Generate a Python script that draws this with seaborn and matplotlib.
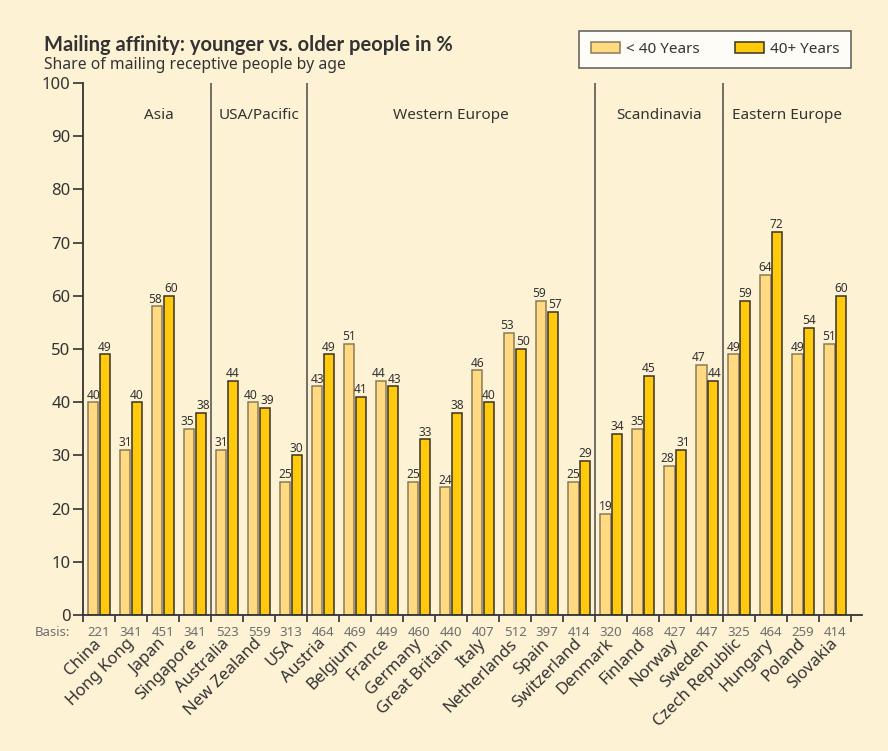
import matplotlib
matplotlib.use("Agg")
import matplotlib.pyplot as plt
import matplotlib.transforms as mtransforms
from matplotlib.patches import Patch
import pandas as pd
import seaborn as sns

# --- data -------------------------------------------------------------
countries = ["China", "Hong Kong", "Japan", "Singapore",
             "Australia", "New Zealand", "USA",
             "Austria", "Belgium", "France", "Germany", "Great Britain",
             "Italy", "Netherlands", "Spain", "Switzerland",
             "Denmark", "Finland", "Norway", "Sweden",
             "Czech Republic", "Hungary", "Poland", "Slovakia"]
under_40 = [40, 31, 58, 35, 31, 40, 25, 43, 51, 44, 25, 24, 46, 53, 59, 25,
            19, 35, 28, 47, 49, 64, 49, 51]
over_40 = [49, 40, 60, 38, 44, 39, 30, 49, 41, 43, 33, 38, 40, 50, 57, 29,
           34, 45, 31, 44, 59, 72, 54, 60]
basis = [221, 341, 451, 341, 523, 559, 313, 464, 469, 449, 460, 440, 407,
         512, 397, 414, 320, 468, 427, 447, 325, 464, 259, 414]
regions = ["Asia", "USA/Pacific", "Western Europe", "Scandinavia", "Eastern Europe"]
region_sizes = [4, 3, 9, 4, 4]
age_groups = ["< 40 Years", "40+ Years"]

# --- styling ----------------------------------------------------------
BG = "#FEF2D5"
C_YOUNG = "#FFDA80"
C_OLD = "#FFC90C"
E_YOUNG = "#8A7A58"
E_OLD = "#3A3222"
DARK = "#333333"
GREY = "#6E6E6E"

sns.set_theme(style="white")
plt.rcParams["font.family"] = ["Noto Sans", "DejaVu Sans"]

df = pd.DataFrame({
    "country": countries * 2,
    "value": under_40 + over_40,
    "age": [age_groups[0]] * len(countries) + [age_groups[1]] * len(countries),
})

fig = plt.figure(figsize=(8.88, 7.51), dpi=100, facecolor=BG)
ax = fig.add_axes([83 / 888, 1 - 615 / 751, (862 - 83) / 888, (615 - 83) / 751])
ax.set_facecolor(BG)

sns.barplot(data=df, x="country", y="value", hue="age", order=countries,
            hue_order=age_groups, palette=[C_YOUNG, C_OLD], width=0.72,
            gap=0.1, saturation=1, legend=False, ax=ax)

label_sets = []
for cont, ec in zip(ax.containers, [E_YOUNG, E_OLD]):
    for bar in cont:
        bar.set_edgecolor(ec)
        bar.set_linewidth(1.1)
    label_sets.append(ax.bar_label(cont, fmt="%d", padding=0.5,
                                   fontsize=8.6, color=DARK))

# push apart the value labels of neighbouring bars with similar heights
for lo, hi, a, b in zip(label_sets[0], label_sets[1], under_40, over_40):
    if abs(a - b) <= 3:
        lo.xyann = (-1.6, lo.xyann[1])
        hi.xyann = (1.6, hi.xyann[1])

ax.set_xlim(-0.5, 23.84)
ax.set_ylim(0, 100)
ax.set_yticks(range(0, 101, 10))
ax.set_xlabel("")
ax.set_ylabel("")

for side in ["top", "right"]:
    ax.spines[side].set_visible(False)
for side in ["left", "bottom"]:
    ax.spines[side].set_color(DARK)
    ax.spines[side].set_linewidth(1.3)

ax.tick_params(axis="y", which="major", length=7, width=1.2, color=DARK,
               labelsize=12, labelcolor=DARK, pad=2, left=True)

# country names below the basis row
ax.set_xticks(range(len(countries)))
ax.set_xticklabels(countries)
ax.tick_params(axis="x", which="major", length=0, pad=19, labelsize=12,
               labelcolor=DARK)
plt.setp(ax.get_xticklabels(), rotation=45, ha="right", va="center",
         rotation_mode="anchor")

# small separator ticks between countries
ax.set_xticks([i - 0.5 for i in range(len(countries) + 1)], minor=True)
ax.tick_params(axis="x", which="minor", length=5, width=1.2, color=DARK,
               bottom=True)

# region separators and headings
start = 0
for name, size in zip(regions, region_sizes):
    end = start + size
    if end < len(countries):
        ax.axvline(end - 0.5, color="#4A4A4A", lw=1.1, zorder=0)
    center = (start + end - 1) / 2
    if name == "Asia":
        center += 0.375
    ax.text(center, 93.8, name, ha="center", va="center", fontsize=11,
            color=DARK)
    start = end

# sample size row
trans = mtransforms.blended_transform_factory(ax.transData, ax.transAxes)
for i, n in enumerate(basis):
    ax.text(i, -0.032, str(n), transform=trans, ha="center", va="center",
            fontsize=9.5, color=GREY)
fig.text(70 / 888, 1 - 632 / 751, "Basis:", ha="right", va="center",
         fontsize=9.5, color=GREY)

# titles
fig.text(44 / 888, 1 - 45 / 751, "Mailing affinity: younger vs. older people in %",
         ha="left", va="center", fontsize=14.5, fontweight="bold", color=DARK,
         family=["Lato", "DejaVu Sans"])
fig.text(44 / 888, 1 - 65 / 751, "Share of mailing receptive people by age",
         ha="left", va="center", fontsize=11.3, color=DARK)

# legend
handles = [Patch(facecolor=C_YOUNG, edgecolor=E_YOUNG, lw=1.1),
           Patch(facecolor=C_OLD, edgecolor=E_OLD, lw=1.1)]
leg = fig.legend(handles, age_groups, loc="center",
                 bbox_to_anchor=(715 / 888, 1 - 49.5 / 751), ncol=2,
                 frameon=True, fancybox=False, fontsize=11,
                 handlelength=1.9, handleheight=0.72, handletextpad=0.4,
                 columnspacing=2.3, borderpad=0.75, borderaxespad=0)
leg.get_frame().set_edgecolor(DARK)
leg.get_frame().set_linewidth(1.1)
leg.get_frame().set_facecolor("white")
for t in leg.get_texts():
    t.set_color(DARK)

fig.savefig("out.png", dpi=100, facecolor=BG)
